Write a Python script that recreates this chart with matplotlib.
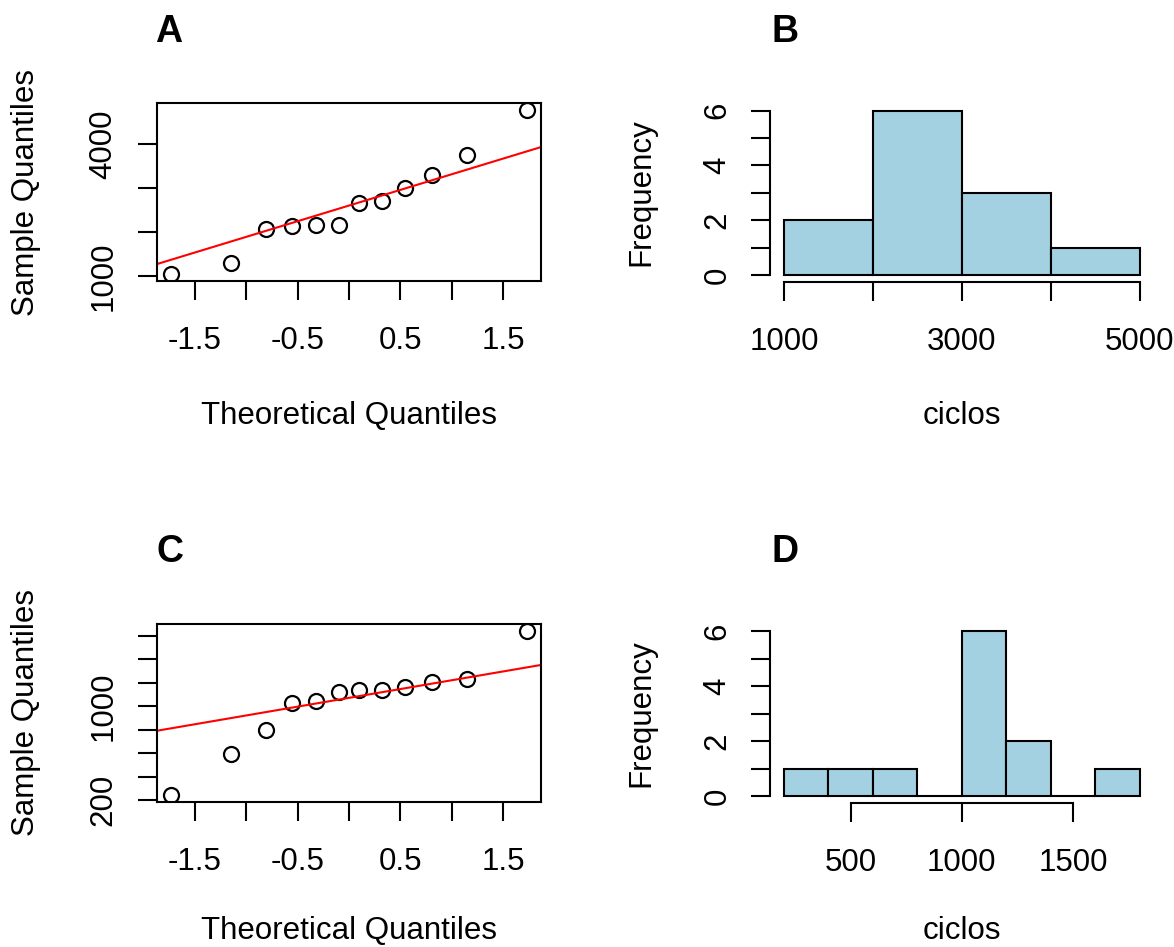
import numpy as np
import matplotlib
matplotlib.use("Agg")
import matplotlib.pyplot as plt

plt.rcParams['font.family'] = ['Liberation Sans', 'DejaVu Sans']

# ---- data ----
theoretical_q = [-1.73, -1.15, -0.81, -0.55, -0.32, -0.10, 0.10, 0.32, 0.55, 0.81, 1.15, 1.73]
ciclos_A = [1039, 1289, 2080, 2139, 2155, 2155, 2672, 2708, 3013, 3300, 3756, 4781]
ciclos_C = [242, 590, 793, 1028, 1047, 1118, 1135, 1141, 1160, 1206, 1231, 1641]

bins_B = [1000, 2000, 3000, 4000, 5000]
bins_D = [200, 400, 600, 800, 1000, 1200, 1400, 1600, 1800]

qq_xticks = [-1.5, -1.0, -0.5, 0.0, 0.5, 1.0, 1.5]
qq_xticklabels = ['-1.5', '', '-0.5', '', '0.5', '', '1.5']
A_yticks = [1000, 2000, 3000, 4000]
A_yticklabels = ['1000', '', '', '4000']
C_yticks = [200, 400, 600, 800, 1000, 1200, 1400, 1600]
C_yticklabels = ['200', '', '', '', '1000', '', '', '']
hist_yticks = [0, 1, 2, 3, 4, 5, 6]
hist_yticklabels = ['0', '', '2', '', '4', '', '6']
B_xticks = [1000, 2000, 3000, 4000, 5000]
B_xticklabels = ['1000', '', '3000', '', '5000']
D_xticks = [500, 1000, 1500]
D_xticklabels = ['500', '1000', '1500']

panel_titles = ['A', 'B', 'C', 'D']

# ---- figure ----
W, H = 1174, 947
fig = plt.figure(figsize=(W / 100, H / 100), dpi=100)

def px_rect(l, r, t, b):
    return [l / W, 1 - b / H, (r - l) / W, (b - t) / H]

def fx(x):
    return x / W

def fy(y):
    return 1 - y / H

FS = 22.5
LW = 1.5
TICKLEN = 13.9

QL, QR = 156.9, 540.9
HL, HR = 769.8, 1153.9

axA = fig.add_axes(px_rect(QL, QR, 103.3, 281.0))
axB = fig.add_axes(px_rect(HL, HR, 104.1, 281.6))
axC = fig.add_axes(px_rect(QL, QR, 624.3, 801.7))
axD = fig.add_axes(px_rect(HL, HR, 624.4, 802.6))

def style_common(ax):
    for s in ax.spines.values():
        s.set_linewidth(LW)
    ax.tick_params(direction='out', length=TICKLEN, width=LW, labelsize=FS)

def qq_panel(ax, y, yticks, yticklabels):
    x = np.array(theoretical_q)
    y = np.array(y)
    ax.plot(x, y, 'o', mfc='none', mec='black', ms=10.8, mew=1.6)
    # qqline through quartiles
    q1, q3 = np.quantile(y, [0.25, 0.75])
    z1, z3 = -0.6744897501960817, 0.6744897501960817
    slope = (q3 - q1) / (z3 - z1)
    inter = q1 - slope * z1
    xr = x.max() - x.min()
    yr = y.max() - y.min()
    ax.axline((0, inter), slope=slope, color='#FF0000', lw=1.5)
    ax.set_xlim(x.min() - 0.04 * xr, x.max() + 0.04 * xr)
    ax.set_ylim(y.min() - 0.04 * yr, y.max() + 0.04 * yr)
    style_common(ax)
    ax.set_xticks(qq_xticks, qq_xticklabels)
    ax.set_yticks(yticks, yticklabels)
    ax.tick_params(axis='x', pad=18.6)
    ax.tick_params(axis='y', pad=13.8)
    for lab in ax.get_yticklabels():
        lab.set_rotation(90)
        lab.set_va('center')

def hist_panel(ax, data, bins, xticks, xticklabels):
    ax.hist(data, bins=bins, color='#A3D1E1', edgecolor='black', linewidth=LW)
    span = bins[-1] - bins[0]
    ax.set_xlim(bins[0] - 0.04 * span, bins[-1] + 0.04 * span)
    ax.set_ylim(-0.24, 6.24)
    style_common(ax)
    ax.spines['top'].set_visible(False)
    ax.spines['right'].set_visible(False)
    ax.spines['left'].set_bounds(0, 6)
    ax.spines['bottom'].set_bounds(xticks[0], xticks[-1])
    ax.set_xticks(xticks, xticklabels)
    ax.set_yticks(hist_yticks, hist_yticklabels)
    ax.tick_params(axis='x', pad=18.9)
    ax.tick_params(axis='y', pad=13.0)
    for lab in ax.get_yticklabels():
        lab.set_rotation(90)
        lab.set_va('center')

qq_panel(axA, ciclos_A, A_yticks, A_yticklabels)
qq_panel(axC, ciclos_C, C_yticks, C_yticklabels)
hist_panel(axB, ciclos_A, bins_B, B_xticks, B_xticklabels)
hist_panel(axD, ciclos_C, bins_D, D_xticks, D_xticklabels)

# axis labels
qc = (QL + QR) / 2
hc = (HL + HR) / 2
fig.text(fx(qc), fy(424.3), 'Theoretical Quantiles', ha='center', va='baseline', fontsize=FS)
fig.text(fx(qc), fy(939.0), 'Theoretical Quantiles', ha='center', va='baseline', fontsize=FS)
fig.text(fx(26), fy(192), 'Sample Quantiles', ha='center', va='center', rotation=90, fontsize=FS)
fig.text(fx(26), fy(713), 'Sample Quantiles', ha='center', va='center', rotation=90, fontsize=FS)
fig.text(fx(hc), fy(424.3), 'ciclos', ha='center', va='baseline', fontsize=FS)
fig.text(fx(hc), fy(939.0), 'ciclos', ha='center', va='baseline', fontsize=FS)
fig.text(fx(641), fy(192), 'Frequency', ha='center', va='center', rotation=90, fontsize=FS)
fig.text(fx(641), fy(713), 'Frequency', ha='center', va='center', rotation=90, fontsize=FS)

# panel letters
title_pos = [(155, 41.7), (771.7, 41.7), (156.7, 562), (771.7, 562)]
for t, (x, y) in zip(panel_titles, title_pos):
    fig.text(fx(x), fy(y), t, ha='left', va='baseline', fontsize=27, fontweight='bold')

fig.savefig('out.png', dpi=100, facecolor='white')
